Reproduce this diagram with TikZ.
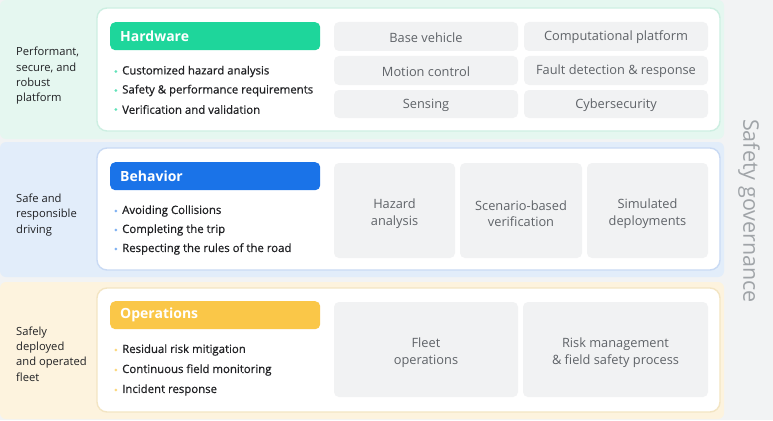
\documentclass[tikz,border=0pt]{standalone}
\usepackage{fontspec}
\setmainfont{Open Sans}
\newfontfamily\medfont{Open Sans}[FakeBold=0.6]
\usepackage{xcolor}
\usetikzlibrary{positioning}

\definecolor{pagegray}{HTML}{F2F3F4}
\definecolor{mintbg}{HTML}{E5F7F0}
\definecolor{bluebg}{HTML}{E2EDFA}
\definecolor{yellowbg}{HTML}{FDF3DE}
\definecolor{mintline}{HTML}{CDEFE2}
\definecolor{blueline}{HTML}{C9DAF4}
\definecolor{yellowline}{HTML}{F3E5C3}
\definecolor{hwgreen}{HTML}{1ED69B}
\definecolor{bhblue}{HTML}{1A73E8}
\definecolor{opyellow}{HTML}{FAC748}
\definecolor{cellgray}{HTML}{F1F2F3}
\definecolor{celltext}{HTML}{5F6368}
\definecolor{darktext}{HTML}{202124}
\definecolor{govtext}{HTML}{A0A4A8}

\tikzset{
  band/.style={rounded corners=6pt},
  card/.style={fill=white, rounded corners=10pt, line width=1.4pt},
  head/.style={rounded corners=5pt, text=white, anchor=north west,
    font=\bfseries\fontsize{14}{16}\selectfont, minimum width=210pt,
    minimum height=28pt, text width=190pt, align=left, inner xsep=10pt},
  cell/.style={fill=cellgray, rounded corners=5pt},
  celltxt/.style={text=celltext, font=\fontsize{12.8}{16.5}\selectfont,
    align=center, yshift=-1pt},
  twoline/.style={yshift=-2pt},
  item/.style={anchor=west, inner sep=0pt, text=darktext,
    font=\medfont\fontsize{11.4}{13}\selectfont},
  dotc/.style={circle, inner sep=1pt, label distance=4.5pt},
  side/.style={anchor=west, align=left, text=darktext,
    font=\fontsize{11.2}{15.3}\selectfont, inner sep=0pt}
}

\begin{document}
\begin{tikzpicture}[x=1pt,y=-1pt]
  \useasboundingbox (0,0) rectangle (773,420);
  \fill[pagegray] (0,0) rectangle (773,420);

  % bands
  \path[band, fill=mintbg] (0,0) rectangle (724,139);
  \path[band, fill=bluebg] (0,142) rectangle (724,277);
  \path[band, fill=yellowbg] (0,282) rectangle (724,419);

  % cards
  \draw[card, draw=mintline] (97,8) rectangle (720,131);
  \draw[card, draw=blueline] (97,148) rectangle (720,270);
  \draw[card, draw=yellowline] (97,288) rectangle (720,412);

  % side labels
  \node[side] (hwside) at (16,76) {Performant,\\secure, and\\robust\\platform};
  \node[side] (bhside) at (16,215) {Safe and\\responsible\\driving};
  \node[side] (opside) at (16,354) {Safely\\deployed\\and operated\\fleet};

  % headers
  \node[head, fill=hwgreen] (hwhead) at (110,22) {Hardware};
  \node[head, fill=bhblue] (bhhead) at (110,162) {Behavior};
  \node[head, fill=opyellow] (ophead) at (110,301) {Operations};

  % bullet lists
  \foreach \t [count=\i] in {Customized hazard analysis,
      Safety \& performance requirements, Verification and validation}
    \node[item, label={[dotc, fill=hwgreen!70]left:}] (hwitem\i) at (122,52.5+19*\i) {\t};
  \foreach \t [count=\i] in {Avoiding Collisions, Completing the trip,
      Respecting the rules of the road}
    \node[item, label={[dotc, fill=bhblue!55]left:}] (bhitem\i) at (122,192+19*\i) {\t};
  \foreach \t [count=\i] in {Residual risk mitigation,
      Continuous field monitoring, Incident response}
    \node[item, label={[dotc, fill=opyellow!70]left:}] (opitem\i) at (122,330+20*\i) {\t};

  % hardware cells
  \path[cell] (334,22) rectangle (518,51) node[midway, celltxt] (basev) {Base vehicle};
  \path[cell] (524,22) rectangle (708,51) node[midway, celltxt] (compp) {Computational platform};
  \path[cell] (334,56) rectangle (518,85) node[midway, celltxt] (motion) {Motion control};
  \path[cell] (524,56) rectangle (708,85) node[midway, celltxt] (fault) {Fault detection \& response};
  \path[cell] (334,90) rectangle (518,118) node[midway, celltxt] (sensing) {Sensing};
  \path[cell] (524,90) rectangle (708,118) node[midway, celltxt] (cyber) {Cybersecurity};

  % behavior cells
  \path[cell] (334,163) rectangle (455,258) node[midway, celltxt, twoline] (hazard) {Hazard\\analysis};
  \path[cell] (460,163) rectangle (582,258) node[midway, celltxt, twoline] (scenario) {Scenario-based\\verification};
  \path[cell] (587,163) rectangle (708,258) node[midway, celltxt, twoline] (simdep) {Simulated\\deployments};

  % operations cells
  \path[cell] (334,302) rectangle (518,397) node[midway, celltxt, twoline] (fleet) {Fleet\\operations};
  \path[cell] (523,302) rectangle (708,397) node[midway, celltxt, twoline] (riskm) {Risk management\\\& field safety process};

  \node[rotate=-90, text=govtext, font=\fontsize{21.5}{22}\selectfont] (gov) at (749,211) {Safety governance};
\end{tikzpicture}
\end{document}
